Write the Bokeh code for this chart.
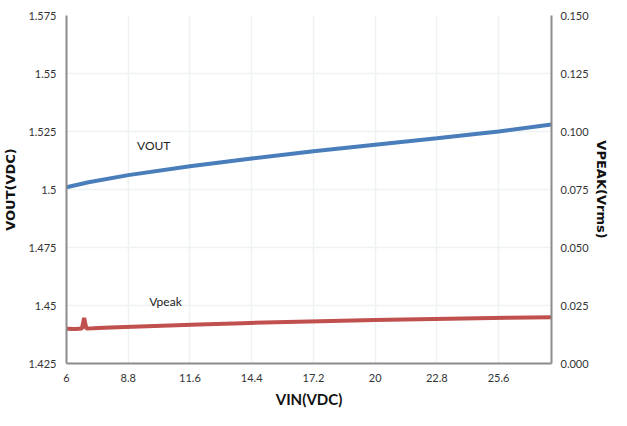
from bokeh.plotting import figure
from bokeh.models import Range1d, LinearAxis, FixedTicker, Label, CustomJSTickFormatter
from bokeh.embed import file_html
from bokeh.resources import INLINE

# data
vin_out = [6, 7, 8.8, 11.6, 14.4, 17.2, 20, 22.8, 25.6, 28]
vout = [1.5010, 1.5031, 1.5062, 1.5100, 1.5134, 1.5165, 1.5193, 1.5221, 1.5250, 1.5280]

vin_peak = [6, 6.4, 6.7, 6.8, 6.9, 7.2, 8, 10, 12, 14, 16, 18, 20, 22, 24, 26, 28]
vpeak = [0.0150, 0.0149, 0.0151, 0.0196, 0.0151, 0.0152, 0.0155, 0.0162, 0.0168,
         0.0174, 0.0179, 0.0183, 0.0187, 0.0191, 0.0194, 0.0197, 0.0199]

x_ticks = [6, 8.8, 11.6, 14.4, 17.2, 20, 22.8, 25.6]
y_left_ticks = [1.425, 1.45, 1.475, 1.5, 1.525, 1.55, 1.575]
y_right_ticks = [0.0, 0.025, 0.05, 0.075, 0.1, 0.125, 0.15]

GRID = "#EEF2F2"
AXC = "#8C8C8C"
TXT = "#333333"
FONT = "Lato"

p = figure(width=611, height=410, output_backend="svg", toolbar_location=None,
           x_range=Range1d(6, 28), y_range=Range1d(1.425, 1.575),
           min_border_left=59, min_border_right=45, min_border_top=15, min_border_bottom=47)
p.outline_line_color = None
p.background_fill_color = "white"
p.border_fill_color = "white"

p.extra_y_ranges = {"peak": Range1d(0.0, 0.15)}

# lines
p.line(vin_out, vout, line_color="#4A7EBB", line_width=4)
p.line(vin_peak, vpeak, line_color="#C0504D", line_width=4, y_range_name="peak")


def style_axis(ax, label_standoff):
    ax.major_label_text_font = FONT
    ax.major_label_text_font_size = "11px"
    ax.major_label_text_color = TXT
    ax.major_label_standoff = label_standoff
    ax.major_tick_out = 0
    ax.major_tick_in = 0
    ax.minor_tick_out = 0
    ax.minor_tick_in = 0
    ax.major_tick_line_color = None
    ax.minor_tick_line_color = None
    ax.axis_line_color = AXC
    ax.axis_line_width = 2


# x axis
xa = p.xaxis[0]
xa.ticker = FixedTicker(ticks=x_ticks)
xa.formatter = CustomJSTickFormatter(code="return String(Math.round(tick*10)/10);")
xa.axis_label = "VIN(VDC)"
xa.axis_label_text_font = FONT
xa.axis_label_text_font_style = "bold"
xa.axis_label_text_font_size = "15px"
xa.axis_label_text_color = "#111111"
xa.axis_label_standoff = 5
style_axis(xa, 10)

# left axis
ya = p.yaxis[0]
ya.ticker = FixedTicker(ticks=y_left_ticks)
ya.formatter = CustomJSTickFormatter(code="return String(Math.round(tick*1000)/1000);")
ya.axis_label = "VOUT(VDC)"
ya.axis_label_text_font = "DejaVu Sans"
ya.axis_label_text_font_style = "bold"
ya.axis_label_text_font_size = "13px"
ya.axis_label_text_color = "#111111"
ya.axis_label_standoff = 7
style_axis(ya, 10)

# right axis
ra = LinearAxis(y_range_name="peak", ticker=FixedTicker(ticks=y_right_ticks),
                formatter=CustomJSTickFormatter(code="return tick.toFixed(3);"))
ra.axis_label = "VPEAK(Vrms)"
ra.axis_label_text_font = "DejaVu Sans"
ra.axis_label_text_font_style = "bold"
ra.axis_label_text_font_size = "13px"
ra.axis_label_text_color = "#111111"
ra.axis_label_standoff = 2
style_axis(ra, 9)
p.add_layout(ra, "right")

p.xgrid.ticker = FixedTicker(ticks=x_ticks)
p.ygrid.ticker = FixedTicker(ticks=y_left_ticks)
p.xgrid.grid_line_color = GRID
p.ygrid.grid_line_color = GRID
p.xgrid.grid_line_width = 1.5
p.ygrid.grid_line_width = 1.5

# series labels
p.add_layout(Label(x=9.2, y=1.5188, text="VOUT", text_font=FONT, text_font_size="12px",
                   text_color="#222222", text_baseline="middle", text_align="left"))
p.add_layout(Label(x=9.75, y=1.4518, text="Vpeak", text_font=FONT, text_font_size="12px",
                   text_color="#222222", text_baseline="middle", text_align="left"))

open("out.html", "w").write(file_html(p, INLINE))
